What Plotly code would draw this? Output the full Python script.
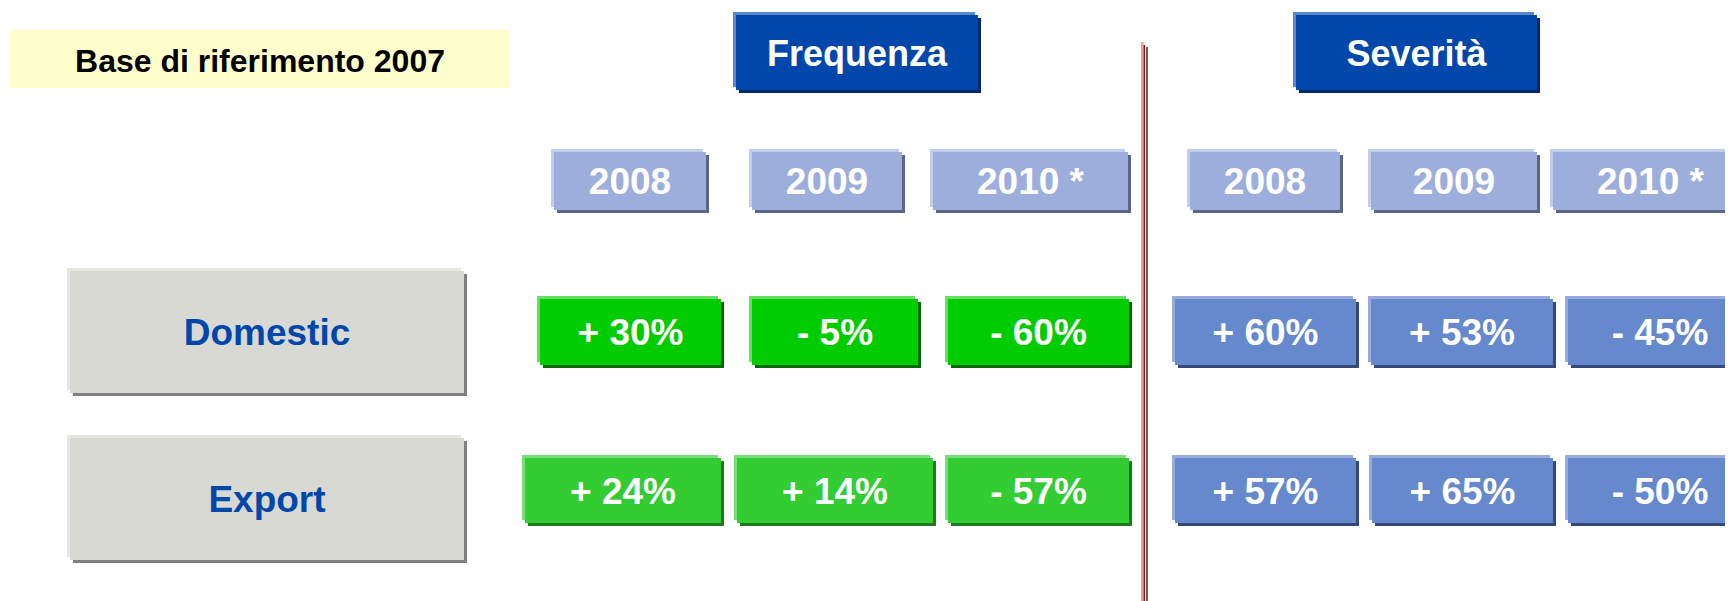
import plotly.graph_objects as go

# ---------------- data ----------------
title_text = "Base di riferimento 2007"
groups = ["Frequenza", "Severità"]
years = ["2008", "2009", "2010 *"]
row_labels = ["Domestic", "Export"]
freq_domestic = [30, -5, -60]
freq_export = [24, 14, -57]
sev_domestic = [60, 53, -45]
sev_export = [57, 65, -50]

def fmt(v):
    return ("+ " if v > 0 else "- ") + f"{abs(v)}%"

# ---------------- layout constants (pixel space) ----------------
W, H = 1733, 601
PAGE_MARGIN = 8  # default body margin of the html page
TEXT_DY = 4      # optical vertical centring of text inside boxes
FONT = "Liberation Sans, Arial, Helvetica, sans-serif"

# main box rectangles (x0, x1, y0, y1)
yellow_box = (10, 510, 30, 88)
group_boxes = [(736, 978, 15, 90), (1296, 1537, 15, 90)]
year_y = (152, 210)
year_x = [[(554, 706), (752, 902), (933, 1128)],
          [(1190, 1340), (1371, 1537), (1553, 1748)]]
row_y = [(299, 365), (458, 523)]
val_x = {
    ("F", 0): [(540, 721), (752, 918), (948, 1129)],
    ("F", 1): [(525, 721), (737, 933), (948, 1129)],
    ("S", 0): [(1175, 1356), (1371, 1553), (1568, 1752)],
    ("S", 1): [(1175, 1356), (1372, 1553), (1568, 1752)],
}
label_boxes = [(70, 464, 271, 393), (70, 464, 438, 560)]

shapes = []

def box(x0, x1, y0, y1, fill, hi, sh, off=3):
    # highlight (top-left), shadow (bottom-right), main face
    shapes.append(dict(type="rect", xref="x", yref="y", x0=x0 - off, x1=x1 - off,
                       y0=y0 - off, y1=y1 - off, fillcolor=hi, line_width=0, layer="below"))
    shapes.append(dict(type="rect", xref="x", yref="y", x0=x0 + off, x1=x1 + off,
                       y0=y0 + off, y1=y1 + off, fillcolor=sh, line_width=0, layer="below"))
    shapes.append(dict(type="rect", xref="x", yref="y", x0=x0, x1=x1,
                       y0=y0, y1=y1, fillcolor=fill, line_width=0, layer="below"))

# colours
C_YELLOW = "#FFFFCC"
C_GROUP = ("#0047AB", "#5B87CC", "#00296B")
C_YEAR = ("#9DAEDC", "#C3CCEA", "#5A6588")
C_LABEL = ("#D9D9D4", "#E6E6E3", "#808080")
C_GREEN1 = ("#00CC00", "#66DD66", "#006A00")
C_GREEN2 = ("#33CC33", "#77DD77", "#1E7A1E")
C_BLUE = ("#6688CC", "#99AADD", "#34497A")

# yellow base box (flat)
shapes.append(dict(type="rect", xref="x", yref="y", x0=yellow_box[0], x1=yellow_box[1],
                   y0=yellow_box[2], y1=yellow_box[3], fillcolor=C_YELLOW, line_width=0,
                   layer="below"))

for b in group_boxes:
    box(*b, *C_GROUP)
for g in range(2):
    for (x0, x1) in year_x[g]:
        box(x0, x1, year_y[0], year_y[1], *C_YEAR)
for b in label_boxes:
    box(*b, *C_LABEL)
for r in range(2):
    for (x0, x1) in val_x[("F", r)]:
        box(x0, x1, row_y[r][0], row_y[r][1], *(C_GREEN1 if r == 0 else C_GREEN2))
    for (x0, x1) in val_x[("S", r)]:
        box(x0, x1, row_y[r][0], row_y[r][1], *C_BLUE)

# vertical divider (triple line)
shapes.append(dict(type="rect", xref="x", yref="y", x0=1141, x1=1143.5, y0=42, y1=H + 5,
                   fillcolor="#E2A0A0", line_width=0))
shapes.append(dict(type="rect", xref="x", yref="y", x0=1143.5, x1=1145, y0=45, y1=H + 5,
                   fillcolor="#9B1010", line_width=0))
shapes.append(dict(type="rect", xref="x", yref="y", x0=1146.3, x1=1147.7, y0=47, y1=H + 5,
                   fillcolor="#4A0A0A", line_width=0))

fig = go.Figure()

def cx(b):
    return (b[0] + b[1]) / 2

def cy(b):
    return (b[2] + b[3]) / 2 + TEXT_DY

# base title
fig.add_trace(go.Scatter(x=[cx(yellow_box)], y=[cy(yellow_box) + 1],
                         mode="text", text=[title_text],
                         textfont=dict(family=FONT, size=32, color="#000000", weight="bold"),
                         hoverinfo="skip"))
# group headers
fig.add_trace(go.Scatter(x=[cx(b) for b in group_boxes],
                         y=[cy(b) for b in group_boxes],
                         mode="text", text=groups,
                         textfont=dict(family=FONT, size=36, color="#FFFFFF", weight="bold"),
                         hoverinfo="skip"))
# year headers
yx, yy, yt = [], [], []
for g in range(2):
    for i, (x0, x1) in enumerate(year_x[g]):
        yx.append((x0 + x1) / 2)
        yy.append(sum(year_y) / 2 + TEXT_DY)
        yt.append(years[i])
fig.add_trace(go.Scatter(x=yx, y=yy, mode="text", text=yt,
                         textfont=dict(family=FONT, size=37, color="#FFFFFF", weight="bold"),
                         hoverinfo="skip"))
# row labels
fig.add_trace(go.Scatter(x=[cx(b) for b in label_boxes],
                         y=[cy(b) for b in label_boxes],
                         mode="text", text=row_labels,
                         textfont=dict(family=FONT, size=37, color="#0047AB", weight="bold"),
                         hoverinfo="skip"))
# values
freq_rows = [freq_domestic, freq_export]
sev_rows = [sev_domestic, sev_export]
vx, vy, vt = [], [], []
for r in range(2):
    for key, rows in (("F", freq_rows), ("S", sev_rows)):
        for i, (x0, x1) in enumerate(val_x[(key, r)]):
            vx.append((x0 + x1) / 2)
            vy.append(sum(row_y[r]) / 2 + TEXT_DY)
            vt.append(fmt(rows[r][i]))
fig.add_trace(go.Scatter(x=vx, y=vy, mode="text", text=vt,
                         textfont=dict(family=FONT, size=37, color="#FFFFFF", weight="bold"),
                         hoverinfo="skip"))

# figure placed at the page's body margin: axis ranges compensate so that
# axis coordinates equal window pixels
fig.update_layout(
    width=W - PAGE_MARGIN, height=H - PAGE_MARGIN,
    margin=dict(l=0, r=0, t=0, b=0),
    paper_bgcolor="#FFFFFF", plot_bgcolor="#FFFFFF",
    showlegend=False,
    shapes=shapes,
    xaxis=dict(range=[PAGE_MARGIN, W], visible=False, fixedrange=True),
    yaxis=dict(range=[H, PAGE_MARGIN], visible=False, fixedrange=True),
)

fig.write_html("out.html", config={"displayModeBar": False})
